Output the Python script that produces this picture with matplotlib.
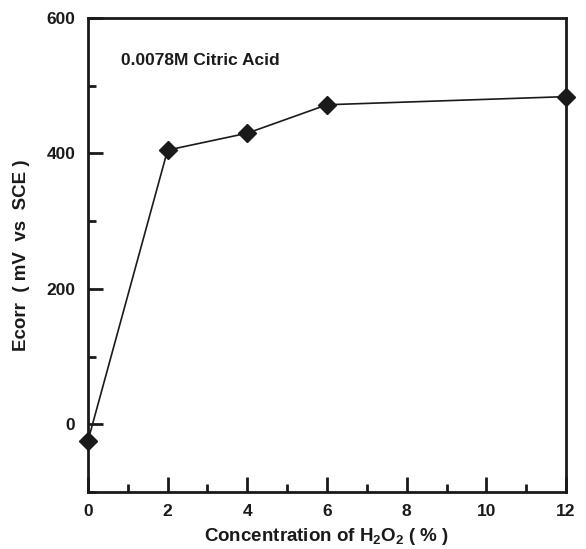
import matplotlib.pyplot as plt
from matplotlib.ticker import MultipleLocator

plt.rcParams['font.family'] = ['Liberation Sans', 'DejaVu Sans']
plt.rcParams['font.weight'] = 'bold'
plt.rcParams['mathtext.fontset'] = 'custom'
plt.rcParams['mathtext.bf'] = 'Liberation Sans:bold'
plt.rcParams['mathtext.rm'] = 'Liberation Sans:bold'
plt.rcParams['mathtext.default'] = 'bf'

h2o2 = [0, 2, 4, 6, 12]
ecorr = [-25, 405, 430, 472, 484]

fig = plt.figure(figsize=(5.86, 5.49), dpi=100)
ax = fig.add_axes([0.150, 0.104, 0.816, 0.863])

ax.plot(h2o2, ecorr, color='#1a1a1a', lw=1.2, marker='D', ms=9,
        markerfacecolor='#1a1a1a', markeredgecolor='#1a1a1a', clip_on=False, zorder=3)

ax.set_xlim(0, 12)
ax.set_ylim(-100, 600)
ax.xaxis.set_major_locator(MultipleLocator(2))
ax.xaxis.set_minor_locator(MultipleLocator(1))
ax.set_yticks([0, 200, 400, 600])
ax.set_yticks([-100, 100, 300, 500], minor=True)

for s in ax.spines.values():
    s.set_linewidth(2)
    s.set_color('#1a1a1a')
ax.tick_params(which='both', direction='in', top=False, right=False, width=2, color='#1a1a1a')
ax.tick_params(which='major', length=11, labelsize=12.5, pad=9, labelcolor='#1a1a1a')
ax.tick_params(which='minor', length=6)
for lab in ax.get_xticklabels() + ax.get_yticklabels():
    lab.set_fontweight('bold')

ax.set_xlabel('Concentration of H$_{2}$O$_{2}$ ( % )', fontsize=13.5, fontweight='bold',
              labelpad=5, color='#1a1a1a')
ax.set_ylabel('Ecorr  ( mV  vs  SCE )', fontsize=13.5, fontweight='bold',
              labelpad=12, color='#1a1a1a')
ax.text(0.07, 0.91, '0.0078M Citric Acid', transform=ax.transAxes, fontsize=12.5,
        fontweight='bold', va='center', ha='left', color='#1a1a1a')

fig.savefig('out.png', dpi=100)
